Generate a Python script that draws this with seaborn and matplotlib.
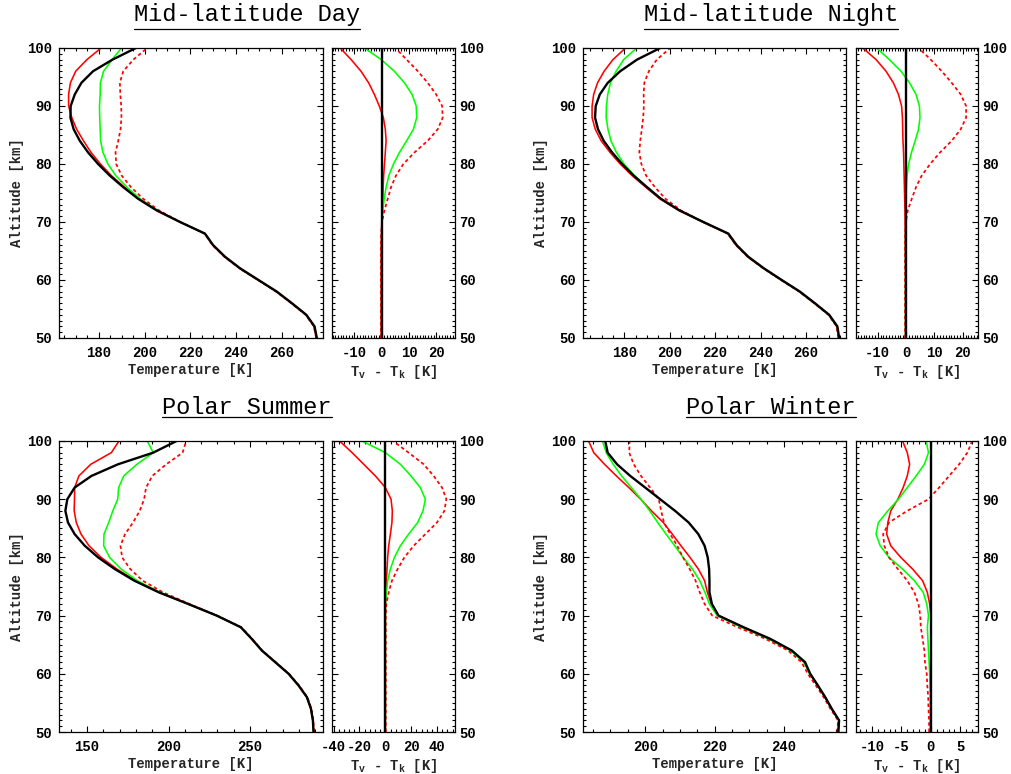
import numpy as np
import pandas as pd
import matplotlib
matplotlib.use("Agg")
import matplotlib.pyplot as plt
import seaborn as sns
from matplotlib.ticker import MultipleLocator, AutoMinorLocator
from matplotlib.lines import Line2D

# ---------------- data ----------------
altitude = list(range(50, 101, 2))  # km

titles = ["Mid-latitude Day", "Mid-latitude Night", "Polar Summer", "Polar Winter"]

# kinetic temperature Tk [K]
mld_tk = [275.3, 274.3, 270.7, 264.4, 257.8, 249.8, 241.8, 235.2, 230.0, 226.4, 215.5, 205.3, 197.2,
          190.7, 184.8, 179.7, 175.3, 171.7, 169.0, 167.6, 167.7, 169.5, 172.4, 177.5, 186.0, 196.2]
mln_tk = [274.6, 273.8, 270.2, 263.9, 257.3, 249.3, 241.5, 234.6, 229.5, 225.8, 214.8, 204.3, 196.1,
          190.0, 184.1, 179.0, 174.6, 170.9, 168.4, 167.1, 167.4, 169.2, 172.7, 178.2, 185.6, 195.8]
ps_tk = [288.9, 288.5, 287.3, 284.8, 279.7, 273.6, 265.4, 257.2, 251.0, 244.3, 229.5, 212.0, 194.0,
         179.0, 167.0, 156.8, 148.6, 142.4, 138.3, 136.7, 137.9, 142.4, 152.7, 169.0, 190.6, 204.9]
pw_tk = [255.6, 255.8, 253.7, 251.8, 249.7, 247.5, 246.0, 242.2, 236.0, 228.3, 221.1, 219.2, 218.5,
         218.5, 218.4, 218.0, 217.1, 215.3, 212.5, 208.6, 204.3, 200.0, 195.7, 191.9, 189.2, 188.5]

# Tv - Tk [K], red solid / green solid / red dotted
mld_red = [-0.2, -0.2, -0.2, -0.2, -0.2, -0.2, -0.2, -0.2, -0.2, -0.1, 0.0, 0.1, 0.4,
           0.5, 0.7, 1.0, 1.3, 1.6, 1.3, 0.6, -0.9, -2.7, -4.8, -7.6, -11.2, -15.2]
mld_green = [0.0, 0.0, 0.0, 0.0, 0.0, 0.0, 0.0, 0.0, 0.0, 0.0, 0.1, 0.4, 0.9,
             1.6, 2.6, 4.3, 6.5, 9.1, 11.6, 12.8, 12.6, 11.1, 8.3, 4.6, -0.2, -6.3]
mld_dot = [-0.3, -0.3, -0.3, -0.3, -0.3, -0.3, -0.3, -0.3, -0.3, -0.2, 0.1, 1.0, 2.2,
           3.4, 5.2, 7.9, 12.0, 16.8, 20.5, 22.3, 22.1, 19.9, 16.8, 13.2, 9.1, 5.0]

mln_red = [-0.2, -0.2, -0.2, -0.2, -0.2, -0.2, -0.2, -0.25, -0.3, -0.3, -0.35, -0.4, -0.5,
           -0.6, -0.7, -0.8, -0.9, -1.1, -1.2, -1.3, -1.6, -2.7, -4.5, -7.1, -10.6, -15.3]
mln_green = [-0.2, -0.2, -0.2, -0.2, -0.2, -0.2, -0.2, -0.2, -0.2, -0.2, 0.0, 0.0, 0.0,
             0.1, 0.35, 0.9, 1.9, 3.2, 4.4, 4.9, 4.7, 3.5, 1.2, -1.8, -5.9, -10.4]
mln_dot = [-0.35, -0.35, -0.35, -0.35, -0.35, -0.35, -0.35, -0.35, -0.35, -0.35, -0.1, 0.6, 2.0,
           3.5, 5.5, 8.5, 12.0, 16.1, 19.3, 21.2, 21.2, 19.3, 16.1, 12.6, 8.7, 4.4]

ps_red = [0.0, 0.0, 0.0, 0.0, 0.0, 0.0, 0.0, 0.0, 0.0, 0.0, 0.0, 0.0, 0.3,
          0.8, 1.3, 1.8, 2.6, 3.9, 5.1, 5.4, 4.4, 0.0, -7.7, -16.7, -25.7, -35.3]
ps_green = [0.0, 0.0, 0.0, 0.0, 0.0, 0.0, 0.0, 0.0, 0.0, 0.0, 0.0, 0.2, 0.8,
            1.8, 3.9, 7.0, 11.6, 18.0, 25.0, 29.1, 30.9, 27.0, 19.8, 11.6, 0.0, -18.0]
ps_dot = [0.3, 0.3, 0.3, 0.3, 0.3, 0.3, 0.3, 0.3, 0.3, 0.3, 0.3, 0.8, 2.6,
          5.1, 9.5, 14.7, 21.9, 30.9, 39.9, 45.6, 47.1, 43.8, 37.3, 29.6, 18.0, 5.9]

pw_red = [0.0, 0.0, 0.0, 0.0, 0.0, 0.0, 0.0, 0.0, 0.0, 0.0, 0.0, -0.2, -0.6,
          -1.4, -3.1, -5.1, -6.8, -7.5, -7.3, -6.8, -5.6, -4.7, -4.0, -3.6, -4.0, -4.8]
pw_green = [-0.1, -0.1, -0.1, -0.1, -0.15, -0.2, -0.3, -0.4, -0.5, -0.6, -0.4, -0.7, -1.3,
            -2.8, -4.8, -7.1, -8.6, -9.3, -8.9, -7.3, -5.5, -4.0, -2.5, -1.1, -0.4, -0.8]
pw_dot = [-0.3, -0.3, -0.4, -0.45, -0.6, -0.7, -1.0, -1.1, -1.4, -1.7, -1.8, -2.1, -2.8,
          -4.0, -5.6, -7.1, -7.9, -8.1, -7.1, -4.0, -0.4, 1.4, 3.1, 4.8, 6.2, 7.0]

# axis ranges and tick labels
temp_xlim = [(162.6, 278.0), (161.8, 277.6), (132.8, 294.7), (182.1, 257.8)]
diff_xlim = [(-18.2, 26.8), (-17.7, 25.4), (-41.2, 53.8), (-12.7, 8.0)]
temp_ticks = [[180, 200, 220, 240, 260], [180, 200, 220, 240, 260], [150, 200, 250], [200, 220, 240]]
diff_ticks = [[-10, 0, 10, 20], [-10, 0, 10, 20], [-40, -20, 0, 20, 40], [-10, -5, 0, 5]]
alt_ticks = [50, 60, 70, 80, 90, 100]

# ---------------- style ----------------
sns.set_style("ticks")
plt.rcParams["font.family"] = ["Liberation Mono", "DejaVu Sans"]
plt.rcParams["font.weight"] = "bold"
plt.rcParams["axes.unicode_minus"] = False
plt.rcParams["mathtext.fontset"] = "custom"
plt.rcParams["mathtext.rm"] = "Liberation Mono:bold"
plt.rcParams["mathtext.it"] = "Liberation Mono:bold"
plt.rcParams["mathtext.bf"] = "Liberation Mono:bold"
plt.rcParams["axes.linewidth"] = 0.9
plt.rcParams["axes.edgecolor"] = "black"
plt.rcParams["text.color"] = "black"
plt.rcParams["xtick.color"] = "black"
plt.rcParams["ytick.color"] = "black"

W, H = 1011, 774
fig = plt.figure(figsize=(W / 100, H / 100), dpi=100)

col_left = [(59, 264, 332, 123), (583, 263, 856, 122)]  # pixel left/width of temp & diff axes
row_top = [(48, 290), (441, 291)]  # pixel top/height
title_x = [247, 771]
title_base = [21, 414]
underline_y = [29, 417]

sets = [
    (mld_tk, mld_red, mld_green, mld_dot),
    (mln_tk, mln_red, mln_green, mln_dot),
    (ps_tk, ps_red, ps_green, ps_dot),
    (pw_tk, pw_red, pw_green, pw_dot),
]

BLACK_LW = 1.7
COL_LW = 1.15
DOT = (0, (2.0, 1.6))


def style_axis(ax, xminor, labelright=False):
    ax.set_ylim(50, 100)
    ax.yaxis.set_major_locator(MultipleLocator(10))
    ax.yaxis.set_minor_locator(AutoMinorLocator(10))
    ax.xaxis.set_minor_locator(AutoMinorLocator(xminor))
    ax.tick_params(which="both", direction="in", top=True, bottom=True, left=True, right=True,
                   labelsize=10, width=0.8)
    ax.tick_params(which="major", length=4)
    ax.tick_params(which="minor", length=2)
    ax.tick_params(axis="x", pad=6)
    if labelright:
        ax.tick_params(axis="y", labelleft=False, labelright=True, pad=3)
    else:
        ax.tick_params(axis="y", pad=5)
    for lab in ax.get_xticklabels() + ax.get_yticklabels():
        lab.set_fontweight("bold")
    for sp in ax.spines.values():
        sp.set_visible(True)
        sp.set_linewidth(0.9)


for i, (tk, red, green, dot) in enumerate(sets):
    c = i % 2
    r = i // 2
    lx, lw, rx, rw = col_left[c]
    top, h = row_top[r]
    axT = fig.add_axes([lx / W, 1 - (top + h) / H, lw / W, h / H])
    axD = fig.add_axes([rx / W, 1 - (top + h) / H, rw / W, h / H])

    tk_a = np.array(tk)
    df = pd.DataFrame({
        "alt": altitude,
        "tk": tk_a,
        "red": tk_a + np.array(red),
        "green": tk_a + np.array(green),
        "dot": tk_a + np.array(dot),
        "d_red": red,
        "d_green": green,
        "d_dot": dot,
        "d_zero": tk_a - tk_a,
    })

    # left panel: temperature profiles
    sns.lineplot(data=df, x="red", y="alt", sort=False, estimator=None, color="#ff0000",
                 lw=COL_LW, ax=axT)
    sns.lineplot(data=df, x="green", y="alt", sort=False, estimator=None, color="#00ff00",
                 lw=COL_LW, ax=axT)
    sns.lineplot(data=df, x="dot", y="alt", sort=False, estimator=None, color="#ff0000",
                 lw=COL_LW + 0.1, linestyle=DOT, ax=axT)
    sns.lineplot(data=df, x="tk", y="alt", sort=False, estimator=None, color="black",
                 lw=BLACK_LW, ax=axT)

    # right panel: Tv - Tk
    sns.lineplot(data=df, x="d_red", y="alt", sort=False, estimator=None, color="#ff0000",
                 lw=COL_LW, ax=axD)
    sns.lineplot(data=df, x="d_green", y="alt", sort=False, estimator=None, color="#00ff00",
                 lw=COL_LW, ax=axD)
    sns.lineplot(data=df, x="d_dot", y="alt", sort=False, estimator=None, color="#ff0000",
                 lw=COL_LW + 0.1, linestyle=DOT, ax=axD)
    sns.lineplot(data=df, x="d_zero", y="alt", sort=False, estimator=None, color="black",
                 lw=BLACK_LW, ax=axD)

    axT.set_xlim(*temp_xlim[i])
    axT.set_xticks(temp_ticks[i])
    axD.set_xlim(*diff_xlim[i])
    axD.set_xticks(diff_ticks[i])
    axT.set_yticks(alt_ticks)
    axD.set_yticks(alt_ticks)

    tmin = 5 if temp_ticks[i][1] - temp_ticks[i][0] == 50 else 4
    dmin = {10: 10, 20: 5, 5: 5}[diff_ticks[i][1] - diff_ticks[i][0]]
    style_axis(axT, tmin)
    style_axis(axD, dmin, labelright=True)

    axT.set_xlabel("Temperature [K]", fontsize=10, fontweight="bold", labelpad=2)
    axT.set_ylabel("Altitude [km]", fontsize=10, fontweight="bold", labelpad=2)
    axD.set_xlabel(r"T$_{v}$ - T$_{k}$ [K]", fontsize=10, fontweight="bold", labelpad=2)
    axD.set_ylabel("")

    t = fig.text(title_x[c] / W, 1 - title_base[r] / H, titles[i], ha="center", va="baseline",
                 fontsize=17, fontweight="normal", family=["Liberation Mono", "DejaVu Sans"])
    fig.canvas.draw()
    bb = t.get_window_extent(renderer=fig.canvas.get_renderer())
    uy = 1 - underline_y[r] / H
    fig.add_artist(Line2D([bb.x0 / W, bb.x1 / W], [uy, uy], transform=fig.transFigure,
                          color="black", lw=0.9))

fig.savefig("out.png", dpi=100)
